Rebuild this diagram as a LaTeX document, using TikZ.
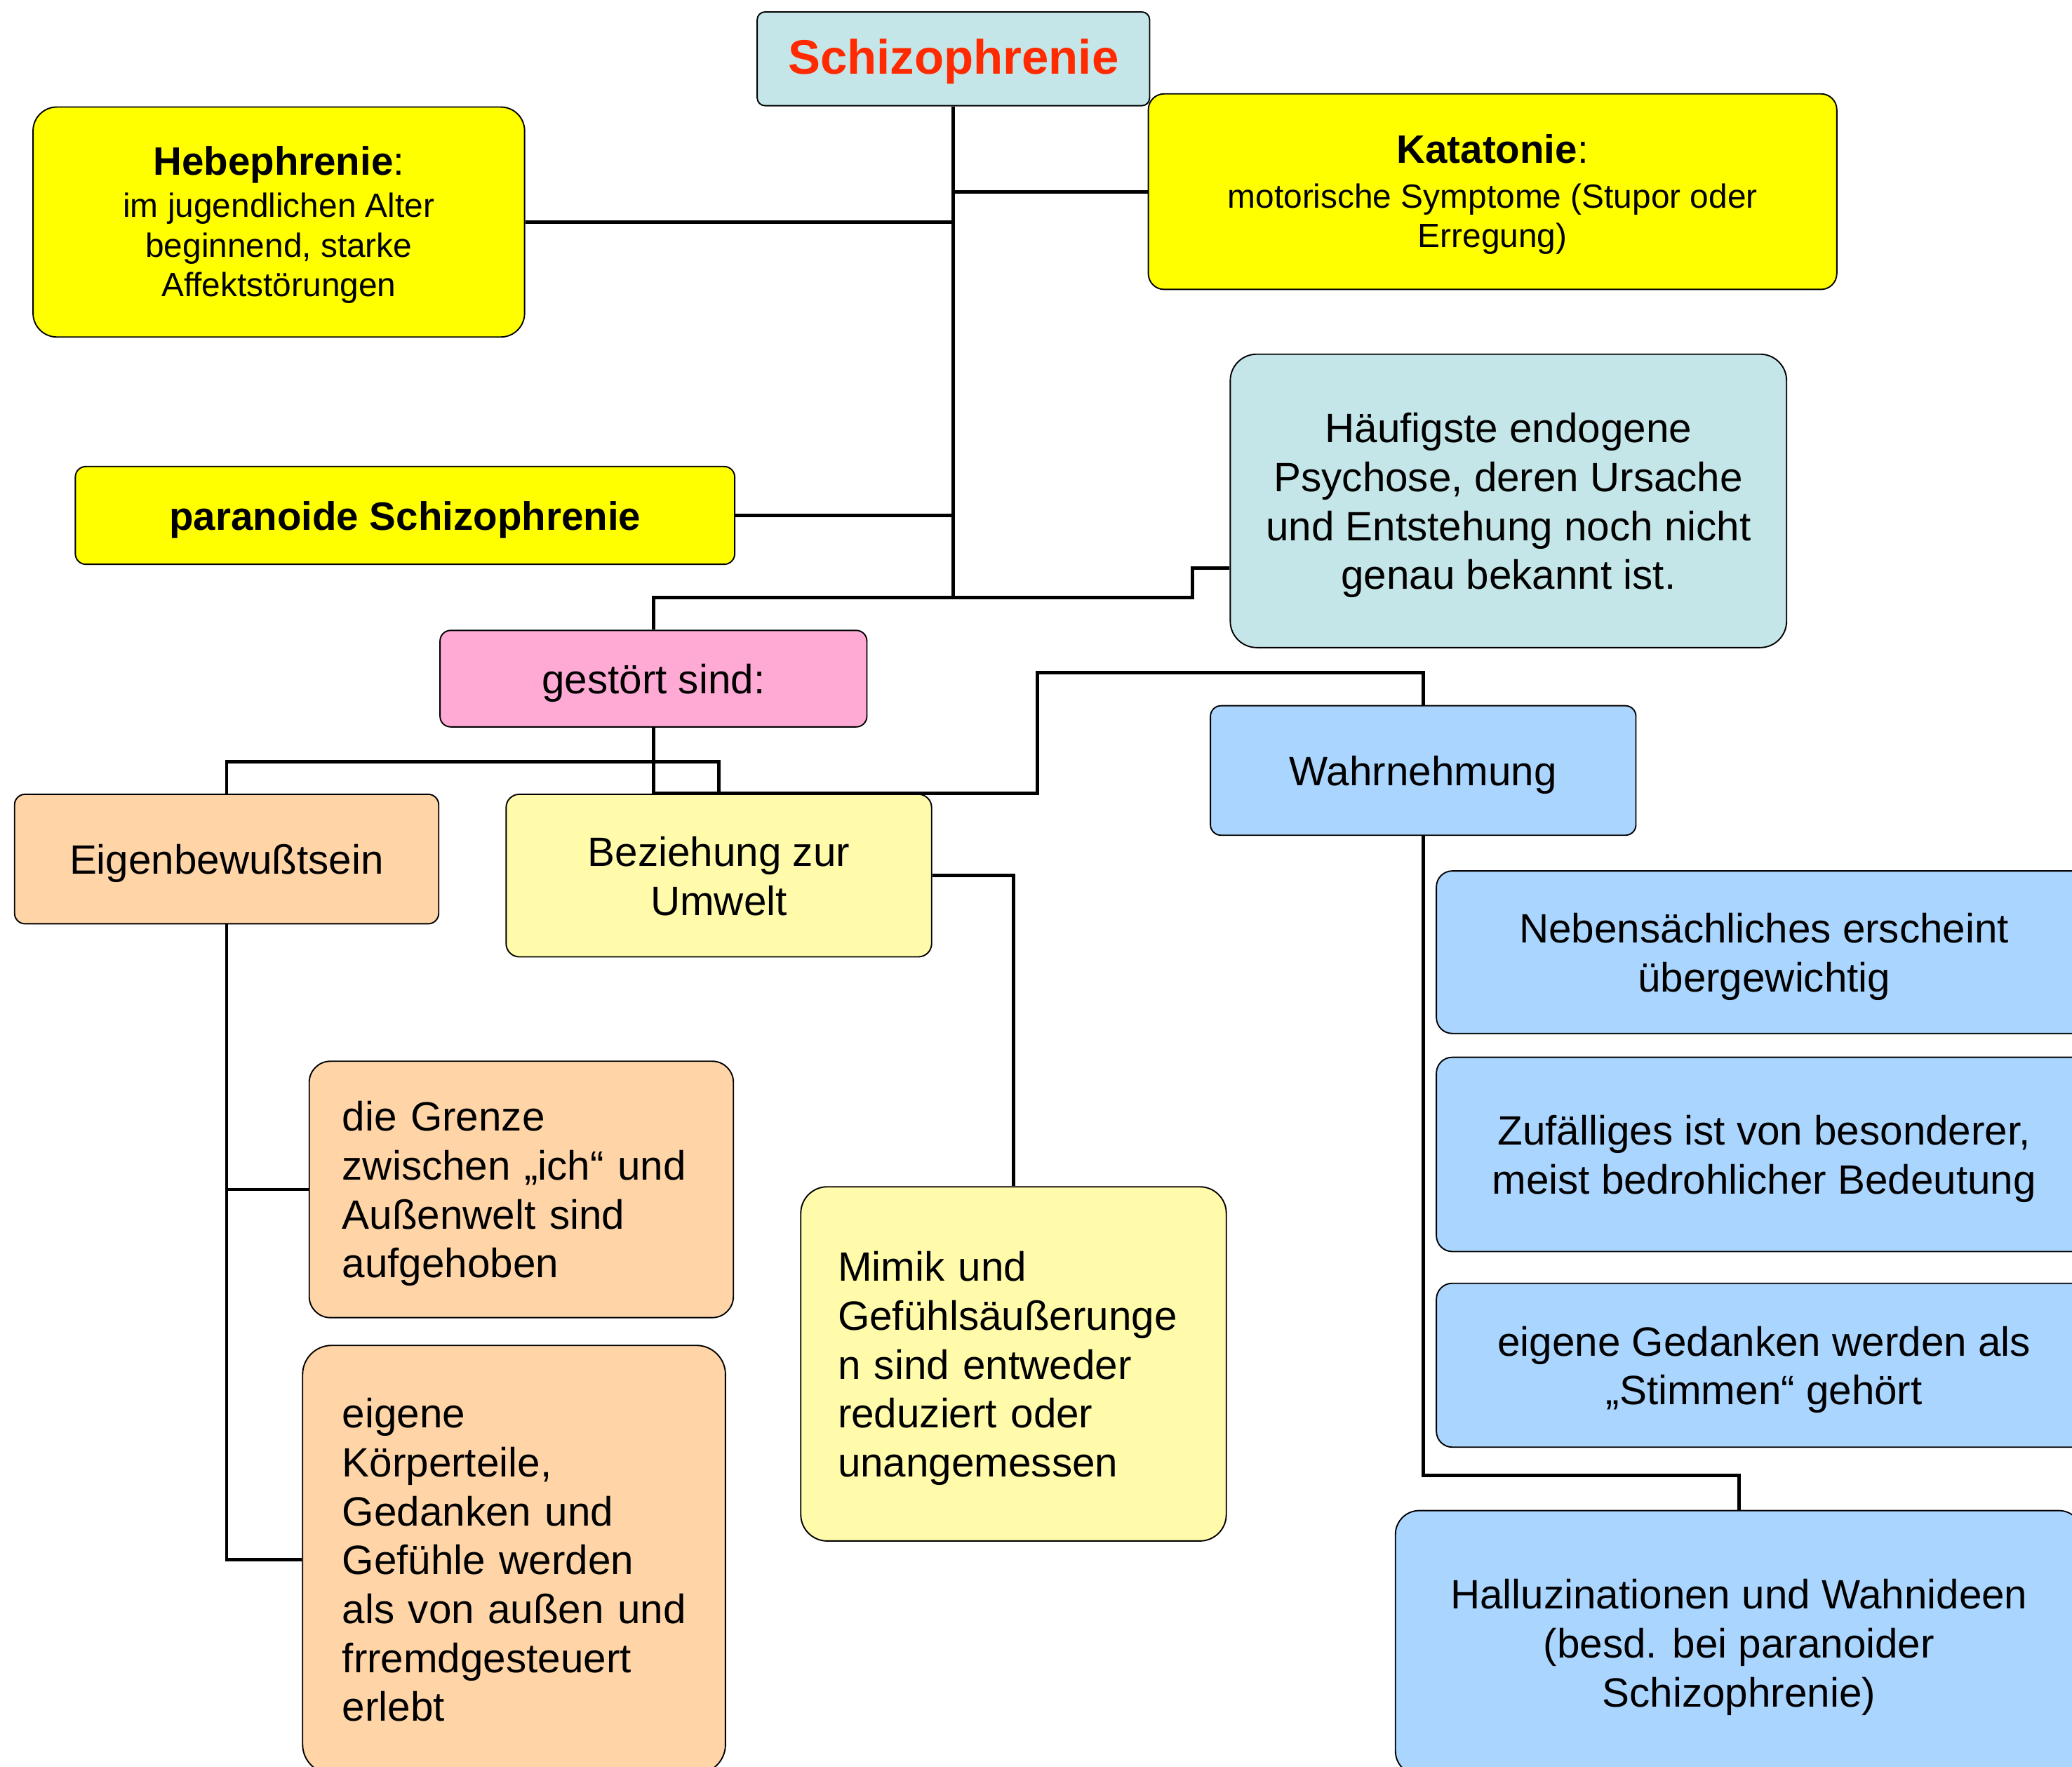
\documentclass[tikz,border=0pt]{standalone}
\usepackage{fontspec}
\setmainfont{Liberation Sans}
\definecolor{cyanbg}{HTML}{C5E6E8}
\definecolor{yel}{HTML}{FFFF00}
\definecolor{pinkbg}{HTML}{FFAAD4}
\definecolor{peach}{HTML}{FFD5A8}
\definecolor{lyel}{HTML}{FFFBAA}
\definecolor{bluebg}{HTML}{AAD5FF}
\definecolor{titlered}{HTML}{FF2A00}
\newcommand{\ctext}[1]{\raisebox{-2pt}[\height][\depth]{\begin{tabular}{@{}c@{}}#1\end{tabular}}}
\newcommand{\ltext}[1]{\raisebox{-2pt}[\height][\depth]{\begin{tabular}{@{}l@{}}#1\end{tabular}}}
\tikzset{
  box/.style={draw=black, line width=0.5pt, rounded corners=#1, align=center, inner sep=0pt,
    font=\fontsize{15.5}{18.5}\selectfont},
  box/.default=4pt,
  lbox/.style={draw=black, line width=0.5pt, rounded corners=#1, align=left, inner ysep=0pt,
    font=\fontsize{15.5}{18.5}\selectfont},
  conn/.style={line width=1.3pt, line join=miter},
  smallfont/.style={font=\fontsize{12.7}{15}\selectfont},
}
\begin{document}
\begin{tikzpicture}[x=0.5pt,y=-0.5pt]
\useasboundingbox (0,0) rectangle (1568,1337);
\clip (0,0) rectangle (1568,1337);

% top level
\node[box=3pt, fill=cyanbg, minimum width=148.5pt, minimum height=35.5pt] (title) at (721.5,44.5)
  {\ctext{\fontsize{18.3}{22}\selectfont\bfseries\color{titlered}Schizophrenie}};
\node[box=6pt, fill=yel, smallfont, minimum width=260.5pt, minimum height=74pt] (kat) at (1129.5,145)
  {\ctext{{\fontsize{15}{18}\selectfont\textbf{Katatonie}:}\\[2pt]motorische Symptome (Stupor oder\\Erregung)}};
\node[box=9pt, fill=yel, smallfont, minimum width=186pt, minimum height=87pt] (heb) at (211,168)
  {\ctext{{\fontsize{15}{18}\selectfont\textbf{Hebephrenie}:}\\[1pt]im jugendlichen Alter\\beginnend, starke\\Affektstörungen}};
\node[box=4pt, fill=yel, minimum width=249.5pt, minimum height=37pt] (par) at (306.5,390)
  {\ctext{\fontsize{15}{18}\selectfont\bfseries paranoide Schizophrenie}};
\node[box=10pt, fill=cyanbg, minimum width=210.5pt, minimum height=111pt] (hauf) at (1141.5,379)
  {\ctext{Häufigste endogene\\Psychose, deren Ursache\\und Entstehung noch nicht\\genau bekannt ist.}};

% second level
\node[box=4pt, fill=pinkbg, minimum width=161.5pt, minimum height=36.5pt] (gest) at (494.5,513.5) {\ctext{gestört sind:}};
\node[box=4pt, fill=peach, minimum width=160.5pt, minimum height=49pt] (eig) at (171.5,650) {\ctext{Eigenbewußtsein}};
\node[box=5pt, fill=lyel, minimum width=161pt, minimum height=61.5pt] (bez) at (544,662.5) {\ctext{Beziehung zur\\Umwelt}};
\node[box=4pt, fill=bluebg, minimum width=161pt, minimum height=49pt] (wahr) at (1077,583) {\ctext{Wahrnehmung}};

% details
\node[lbox=8pt, fill=peach, inner xsep=12.5pt, text width=135.5pt, minimum height=97pt] (gren) at (394.5,900)
  {\ltext{die Grenze\\zwischen „ich“ und\\Außenwelt sind\\aufgehoben}};
\node[lbox=11pt, fill=peach, inner xsep=15pt, text width=130pt, minimum height=162pt] (koer) at (389,1180)
  {\ltext{eigene\\Körperteile,\\Gedanken und\\Gefühle werden\\als von außen und\\frremdgesteuert\\erlebt}};
\node[lbox=10pt, fill=lyel, inner xsep=14pt, text width=133pt, minimum height=134pt] (mim) at (767,1032)
  {\ltext{Mimik und\\Gefühlsäußerunge\\n sind entweder\\reduziert oder\\unangemessen}};
\node[box=6pt, fill=bluebg, minimum width=248pt, minimum height=61.5pt] (neb) at (1335,720.5)
  {\ctext{Nebensächliches erscheint\\übergewichtig}};
\node[box=6pt, fill=bluebg, minimum width=248pt, minimum height=73.5pt] (zuf) at (1335,873.5)
  {\ctext{Zufälliges ist von besonderer,\\meist bedrohlicher Bedeutung}};
\node[box=6pt, fill=bluebg, minimum width=248pt, minimum height=62pt] (eigG) at (1335,1033)
  {\ctext{eigene Gedanken werden als\\„Stimmen“ gehört}};
\node[box=9pt, fill=bluebg, minimum width=260pt, minimum height=100pt] (hal) at (1316,1243)
  {\ctext{Halluzinationen und Wahnideen\\(besd. bei paranoider\\Schizophrenie)}};

% connectors
\coordinate (j1) at (721.5,452);
\coordinate (k) at (785,509);
\draw[conn] (title.south) -- (j1);
\draw[conn] (kat.west) -- (kat.west -| title.south);
\draw[conn] (heb.east) -- (heb.east -| title.south);
\draw[conn] (par.east) -- (par.east -| title.south);
\draw[conn] ([yshift=-25.5pt]hauf.west) -- ++(-28,0) -- ++(0,22) -| (gest.north);
\draw[conn] (gest.south) -- ++(0,26) -| (eig.north);
\draw[conn] (gest.south) -- ++(0,26) -| (bez.north);
\draw[conn] (gest.south) -- (gest.south |- bez.north) -| (k) -| (wahr.north);
\draw[conn] (bez.east) -| (mim.north);
\draw[conn] (eig.south) |- (gren.west);
\draw[conn] (eig.south) |- (koer.west);
\draw[conn] (wahr.south) -- ([yshift=13pt]hal.north -| wahr.south) -| (hal.north);
\end{tikzpicture}
\end{document}
